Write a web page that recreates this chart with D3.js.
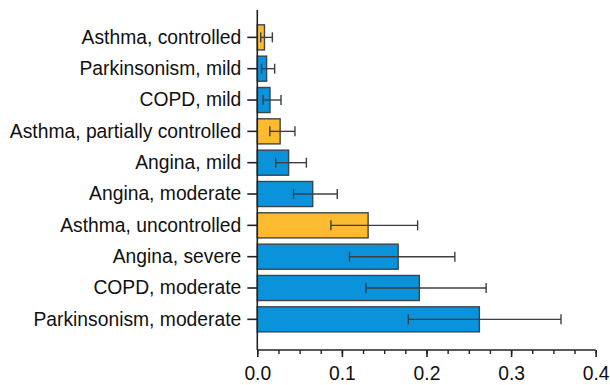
<!DOCTYPE html>
<html>
<head>
<meta charset="utf-8">
<script src="https://cdn.jsdelivr.net/npm/d3@7"></script>
<style>
  html, body { margin: 0; padding: 0; background: #fff; }
  svg { display: block; }
  text { font-family: "Liberation Sans", Arial, sans-serif; fill: #111; }
</style>
</head>
<body>
<svg id="chart" width="610" height="385"></svg>
<script>
// Conditions, listed top to bottom
const categories = [
  "Asthma, controlled",
  "Parkinsonism, mild",
  "COPD, mild",
  "Asthma, partially controlled",
  "Angina, mild",
  "Angina, moderate",
  "Asthma, uncontrolled",
  "Angina, severe",
  "COPD, moderate",
  "Parkinsonism, moderate"
];
const groups = ["asthma", "other", "other", "asthma", "other", "other", "asthma", "other", "other", "other"];
const values = [0.0085, 0.011, 0.015, 0.027, 0.037, 0.0655, 0.131, 0.1665, 0.1915, 0.2625];
const lower  = [0.004, 0.005, 0.0068, 0.0148, 0.0218, 0.0428, 0.087, 0.109, 0.1285, 0.1785];
const upper  = [0.0178, 0.0205, 0.028, 0.0445, 0.058, 0.0945, 0.1895, 0.2335, 0.2705, 0.359];
const xTicks = [0.0, 0.1, 0.2, 0.3, 0.4];

const data = categories.map((c, i) => ({
  cat: c, group: groups[i], v: values[i], lo: lower[i], hi: upper[i]
}));

const colors = { asthma: "#FDBB30", other: "#0A93DB" };
const edge = "#3a4650";
const fontSize = 19.3;

const svg = d3.select("#chart");

const x = d3.scaleLinear().domain([0, 0.4]).range([257.3, 595.7]);
const y = d3.scaleBand().domain(categories).range([21.7, 335])
  .paddingInner(0.2).paddingOuter(0.1);

// Bars
svg.append("g").selectAll("rect").data(data).join("rect")
  .attr("x", x(0))
  .attr("y", d => y(d.cat))
  .attr("width", d => x(d.v) - x(0))
  .attr("height", y.bandwidth())
  .attr("fill", d => colors[d.group])
  .attr("stroke", edge)
  .attr("stroke-width", 1.4);

// Error bars
const eb = svg.append("g").attr("stroke", "#3b3f44").attr("stroke-width", 1.4);
data.forEach(d => {
  const cy = y(d.cat) + y.bandwidth() / 2;
  eb.append("line").attr("x1", x(d.lo)).attr("x2", x(d.hi)).attr("y1", cy).attr("y2", cy);
  [d.lo, d.hi].forEach(val => {
    eb.append("line").attr("x1", x(val)).attr("x2", x(val))
      .attr("y1", cy - 5).attr("y2", cy + 5);
  });
});

// Y axis
const yAxis = svg.append("g").attr("transform", `translate(${x(0)},0)`)
  .call(d3.axisLeft(y).tickSize(10).tickPadding(6));
yAxis.select(".domain").remove();
yAxis.selectAll("line").attr("stroke", "#222").attr("stroke-width", 1.6);
yAxis.selectAll("text").attr("font-size", fontSize).attr("fill", "#111")
  .style("font-family", "'Liberation Sans', Arial, sans-serif");
svg.append("line").attr("x1", x(0)).attr("x2", x(0)).attr("y1", 10).attr("y2", 350)
  .attr("stroke", "#222").attr("stroke-width", 1.6);

// X axis with minor ticks
const axisY = 350;
const minor = d3.range(0, 0.4001, 0.025);
svg.append("g").attr("transform", `translate(0,${axisY})`)
  .call(d3.axisBottom(x).tickValues(minor).tickSize(4).tickFormat(""))
  .call(g => g.select(".domain").remove())
  .selectAll("line").attr("stroke", "#222").attr("stroke-width", 1.4);
const xAxis = svg.append("g").attr("transform", `translate(0,${axisY})`)
  .call(d3.axisBottom(x).tickValues(xTicks).tickSize(7).tickPadding(9)
    .tickFormat(d3.format(".1f")));
xAxis.select(".domain").attr("stroke", "#222").attr("stroke-width", 1.6)
  .attr("d", `M${x(0)},0H${x(0.4)}`);
xAxis.selectAll("line").attr("stroke", "#222").attr("stroke-width", 1.6);
xAxis.selectAll("text").attr("font-size", fontSize).attr("fill", "#111")
  .style("font-family", "'Liberation Sans', Arial, sans-serif");
</script>
</body>
</html>
